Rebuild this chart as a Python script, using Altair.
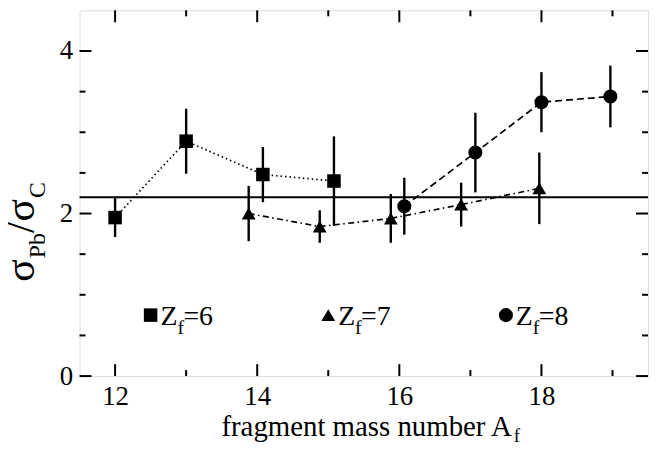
import altair as alt
import pandas as pd

# ---- data ----
z6_a = [12.0, 13.0, 14.08, 15.08]
z6_r = [1.95, 2.89, 2.48, 2.40]
z6_e = [0.24, 0.40, 0.34, 0.55]

z7_a = [13.88, 14.88, 15.88, 16.87, 17.97]
z7_r = [2.00, 1.84, 1.94, 2.11, 2.31]
z7_e = [0.34, 0.20, 0.30, 0.27, 0.44]

z8_a = [16.07, 17.07, 18.0, 18.97]
z8_r = [2.09, 2.75, 3.37, 3.44]
z8_e = [0.35, 0.49, 0.37, 0.38]

ref_ratio = [2.2]
series_names = ["Z6", "Z7", "Z8"]
legend_x = [12.5, 15.0, 17.5]
legend_y = [0.75, 0.75, 0.75]
legend_eq = ["=6", "=7", "=8"]

x_major = [12, 14, 16, 18]
x_minor = [13, 15, 17, 19]
y_major = [0, 2, 4]
y_minor = [0.5, 1.0, 1.5, 2.5, 3.0, 3.5]

FONT = "Liberation Serif"
W, H = 572, 368

rows = []
for name, a_list, r_list, e_list in [("Z6", z6_a, z6_r, z6_e), ("Z7", z7_a, z7_r, z7_e), ("Z8", z8_a, z8_r, z8_e)]:
    for a, r, e in zip(a_list, r_list, e_list):
        rows.append({"series": name, "a": a, "r": r, "e": e})
df = pd.DataFrame(rows)
df["lo"] = df["r"] - df["e"]
df["hi"] = df["r"] + df["e"]

xs = alt.Scale(domain=[11.5, 19.5], nice=False, zero=False)
ys = alt.Scale(domain=[0, 4.5], nice=False, zero=False)
x_axis = alt.Axis(values=x_major, ticks=False, domain=False, grid=False, labelFont=FONT,
                  labelFontSize=27, labelColor="black", labelPadding=8, title=None, format="d")
y_axis = alt.Axis(values=y_major, ticks=False, domain=False, grid=False, labelFont=FONT,
                  labelFontSize=27, labelColor="black", labelPadding=7, title=None, format="d")

shape_scale = alt.Scale(domain=series_names, range=["square", "triangle-up", "circle"])
size_scale = alt.Scale(domain=series_names, range=[185, 200, 175])
dash_scale = alt.Scale(domain=series_names, range=[[1.5, 3], [6, 3.5, 1.5, 3.5], [7, 4]])

base = alt.Chart(df)

lines = base.mark_line(color="black", strokeWidth=1.7).encode(
    x=alt.X("a:Q", scale=xs, axis=x_axis),
    y=alt.Y("r:Q", scale=ys, axis=y_axis),
    strokeDash=alt.StrokeDash("series:N", scale=dash_scale, legend=None),
    detail="series:N",
)

errs = base.mark_rule(color="black", strokeWidth=2.4).encode(
    x=alt.X("a:Q", scale=xs),
    y=alt.Y("lo:Q", scale=ys),
    y2="hi:Q",
)

pts = base.mark_point(filled=True, color="black", opacity=1).encode(
    x=alt.X("a:Q", scale=xs),
    y=alt.Y("r:Q", scale=ys),
    shape=alt.Shape("series:N", scale=shape_scale, legend=None),
    size=alt.Size("series:N", scale=size_scale, legend=None),
)

href = alt.Chart(pd.DataFrame({"y": ref_ratio})).mark_rule(color="black", strokeWidth=2.2).encode(
    y=alt.Y("y:Q", scale=ys), x=alt.value(0), x2=alt.value(W)
)

# ticks (inward), all four sides
def xticks(vals, length):
    d = alt.Chart(pd.DataFrame({"t": vals}))
    bot = d.mark_rule(color="black", strokeWidth=2).encode(
        x=alt.X("t:Q", scale=xs), y=alt.value(H), y2=alt.value(H - length))
    top = d.mark_rule(color="black", strokeWidth=2).encode(
        x=alt.X("t:Q", scale=xs), y=alt.value(0), y2=alt.value(length))
    return [bot, top]

def yticks(vals, length):
    d = alt.Chart(pd.DataFrame({"t": vals}))
    lft = d.mark_rule(color="black", strokeWidth=2).encode(
        y=alt.Y("t:Q", scale=ys), x=alt.value(0), x2=alt.value(length))
    rgt = d.mark_rule(color="black", strokeWidth=2).encode(
        y=alt.Y("t:Q", scale=ys), x=alt.value(W), x2=alt.value(W - length))
    return [lft, rgt]

tick_layers = xticks(x_major, 12) + xticks(x_minor, 6) + yticks(y_major, 12) + yticks(y_minor, 6)

# legend inside plot
leg = pd.DataFrame({"series": series_names, "lx": legend_x, "ly": legend_y, "eq": legend_eq,
                    "z": ["Z"] * 3, "f": ["f"] * 3})
lbase = alt.Chart(leg)
leg_sym = lbase.mark_point(filled=True, color="black", opacity=1).encode(
    x=alt.X("lx:Q", scale=xs), y=alt.Y("ly:Q", scale=ys),
    shape=alt.Shape("series:N", scale=shape_scale, legend=None),
    size=alt.Size("series:N", scale=alt.Scale(domain=series_names, range=[140, 100, 130]), legend=None),
)
leg_z = lbase.mark_text(font=FONT, fontSize=28, align="left", baseline="alphabetic", dx=10, dy=10, color="black").encode(
    x=alt.X("lx:Q", scale=xs), y=alt.Y("ly:Q", scale=ys), text="z:N")
leg_f = lbase.mark_text(font=FONT, fontSize=20, align="left", baseline="alphabetic", dx=27, dy=19, color="black").encode(
    x=alt.X("lx:Q", scale=xs), y=alt.Y("ly:Q", scale=ys), text="f:N")
leg_eq = lbase.mark_text(font=FONT, fontSize=28, align="left", baseline="alphabetic", dx=33, dy=10, color="black").encode(
    x=alt.X("lx:Q", scale=xs), y=alt.Y("ly:Q", scale=ys), text="eq:N")

def txt(s, x, y, size, angle=0, align="left"):
    return alt.Chart(pd.DataFrame({"s": [s]})).mark_text(
        font=FONT, fontSize=size, align=align, baseline="alphabetic", angle=angle, color="black"
    ).encode(x=alt.value(x), y=alt.value(y), text="s:N")

# x axis title with subscript
xt_main = txt("fragment mass number A", 435, 428, 29, align="right")
xt_sub = txt("f", 437, 434, 19)

# y axis title with subscripts (rotated)
F, f = 42, 24
y0 = 273
pieces = [("σ", F, -46, 0.56), ("Pb", f, -35, 1.056), ("/", F, -46, 0.278), ("σ", F, -46, 0.56), ("C", f, -35, 0.667)]
yt_layers = []
cur = y0
for s, sz, bx, wf in pieces:
    yt_layers.append(txt(s, bx, cur, sz, angle=270))
    cur -= wf * sz

chart = alt.layer(
    lines, href, errs, pts, *tick_layers, leg_sym, leg_z, leg_f, leg_eq, xt_main, xt_sub, *yt_layers
).properties(
    width=W, height=H,
    autosize=alt.AutoSizeParams(type="none"),
    padding={"left": 72, "top": 1, "right": 6, "bottom": 70},
).configure_view(stroke="black", strokeWidth=2.5).configure(
    background="white", font=FONT
).configure_axis(labelFont=FONT).configure_text(font=FONT)

chart.save("out.html", embed_options={"renderer": "svg", "actions": False})
